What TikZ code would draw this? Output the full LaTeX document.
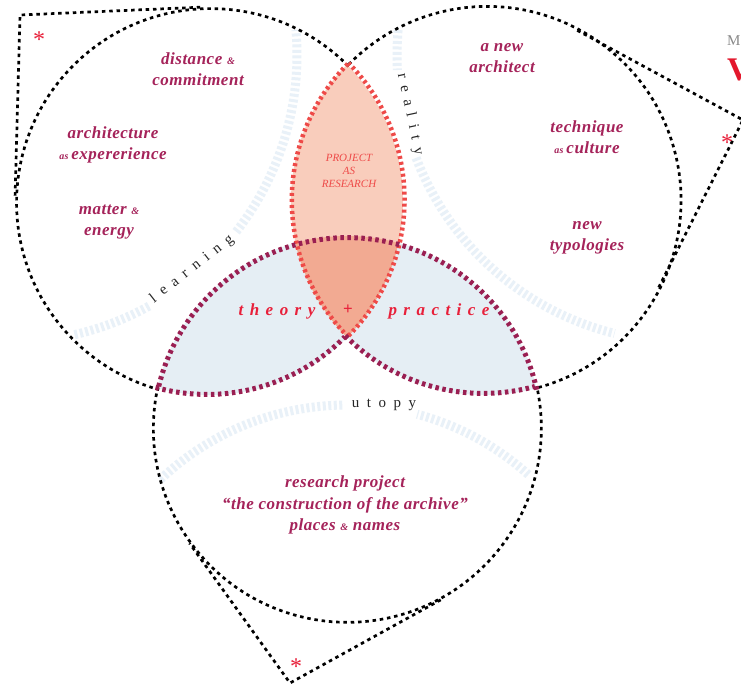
\documentclass[tikz,border=0pt]{standalone}
\usepackage{fontspec}
\setmainfont{Liberation Serif}
\usetikzlibrary{calc}
\definecolor{mag}{HTML}{A5235A}
\definecolor{purD}{HTML}{9A1F52}
\definecolor{redD}{HTML}{EE4A48}
\definecolor{redT}{HTML}{E8203A}
\definecolor{peach}{HTML}{F9CDBC}
\definecolor{salmon}{HTML}{F2AA92}
\definecolor{blueF}{HTML}{E5EEF4}
\definecolor{faintB}{HTML}{E9F1F8}
\definecolor{grayM}{HTML}{8A8A8A}
\definecolor{redV}{HTML}{E3182D}
\newcommand{\sm}[1]{{\fontsize{10}{10}\selectfont #1}}
\tikzset{
  circ/.style={circle, minimum size=388pt, inner sep=0pt, outer sep=0pt},
  blk/.style={draw=black, line width=2.7pt, dash pattern=on 3.5pt off 3.8pt},
  pur/.style={draw=purD, line width=5pt, dash pattern=on 3.5pt off 3.5pt},
  redd/.style={draw=redD, line width=4.5pt, dash pattern=on 3pt off 3pt},
  faint/.style={draw=faintB, line width=9pt, dash pattern=on 3pt off 2.5pt},
  lbl/.style={text=mag, align=center, inner sep=0pt,
    font=\fontsize{17}{21.5}\selectfont\bfseries\itshape\addfontfeature{LetterSpace=3}},
  tp/.style={text=redT, inner sep=0pt,
    font=\fontsize{17}{20}\selectfont\bfseries\itshape\addfontfeature{LetterSpace=38}},
  arcw/.style={text=black!85, inner sep=0pt,
    font=\fontsize{15}{15}\selectfont\addfontfeature{LetterSpace=50}},
  pr/.style={text=redD, align=center, inner sep=0pt,
    font=\fontsize{11}{13}\selectfont\itshape},
  ast/.style={text=redT, inner sep=0pt, anchor=base, font=\fontsize{24}{24}\selectfont},
}
\begin{document}
\begin{tikzpicture}[x=1pt,y=1pt]
\useasboundingbox (0,0) rectangle (741,-689);
\fill[white] (0,0) rectangle (741,-689);

% circles as nodes (geometry only)
\node[circ] (cA) at (209,-201) {};
\node[circ] (cB) at (485,-201) {};
\node[circ] (cC) at (347,-430) {};

% faint guide arcs
\draw[faint] (10,-55) ++(-77:287pt) arc[start angle=-77, end angle=-61, radius=287pt];
\draw[faint] (10,-55) ++(-38:287pt) arc[start angle=-38, end angle=5, radius=287pt];
\draw[faint] (684,-55) ++(175:287pt) arc[start angle=175, end angle=183, radius=287pt];
\draw[faint] (684,-55) ++(201:287pt) arc[start angle=201, end angle=256, radius=287pt];
\draw[faint] (347,-676) ++(48:271pt) arc[start angle=48, end angle=75, radius=271pt];
\draw[faint] (347,-676) ++(91:271pt) arc[start angle=91, end angle=134, radius=271pt];

% fills
\begin{scope}
  \clip (cA.center) circle[radius=194pt];
  \fill[blueF] (cC.center) circle[radius=194pt];
\end{scope}
\begin{scope}
  \clip (cB.center) circle[radius=194pt];
  \fill[blueF] (cC.center) circle[radius=194pt];
\end{scope}
\begin{scope}
  \clip (cA.center) circle[radius=194pt];
  \fill[peach] (cB.center) circle[radius=194pt];
\end{scope}
\begin{scope}
  \clip (cA.center) circle[radius=194pt];
  \clip (cB.center) circle[radius=194pt];
  \fill[salmon] (cC.center) circle[radius=194pt];
\end{scope}

% black dotted outer arcs
\draw[blk] (cA.44.66) arc[start angle=44.66, end angle=254.63, radius=194pt];
\draw[blk] (cB.-74.63) arc[start angle=-74.63, end angle=135.34, radius=194pt];
\draw[blk] (cC.167.51) arc[start angle=167.51, end angle=372.49, radius=194pt];

% tear-drop corners
\coordinate (kA) at (20,-15);
\coordinate (kB) at (743,-120);
\coordinate (kC) at (290,-683);
\draw[blk] (tangent cs:node=cA,point={(kA)},solution=1) -- (kA)
  -- (tangent cs:node=cA,point={(kA)},solution=2);
\draw[blk] (tangent cs:node=cB,point={(kB)},solution=1) -- (kB)
  -- (tangent cs:node=cB,point={(kB)},solution=2);
\draw[blk] (tangent cs:node=cC,point={(kC)},solution=1) -- (kC)
  -- (tangent cs:node=cC,point={(kC)},solution=2);

% red lens boundary
\draw[redd] (cA.-44.66) arc[start angle=-44.66, end angle=44.66, radius=194pt];
\draw[redd] (cB.135.34) arc[start angle=135.34, end angle=224.66, radius=194pt];

% purple boundaries
\draw[pur] (cC.12.49) arc[start angle=12.49, end angle=167.51, radius=194pt];
\draw[pur] (cA.254.63) arc[start angle=254.63, end angle=315.34, radius=194pt];
\draw[pur] (cB.224.66) arc[start angle=224.66, end angle=285.37, radius=194pt];

% labels
\node[lbl] (t1) at (198,-69) {distance \sm{\&}\\commitment};
\node[lbl] (t2) at (113,-145) {architecture\\\sm{as}\,expererience};
\node[lbl] (t3) at (109,-222) {matter \sm{\&}\\energy};
\node[lbl] (t4) at (502,-58) {a new\\architect};
\node[lbl] (t5) at (587,-137) {technique\\\sm{as}\,culture};
\node[lbl] (t6) at (587,-238) {new\\typologies};
\node[lbl] (t7) at (345,-505) {research project\\``the construction of the archive''\\places \sm{\&} names};

\node[tp] (th) at (277,-311) {theory};
\node[text=redT, font=\fontsize{17}{20}\selectfont\bfseries] (plus) at (348,-310) {+};
\node[tp] (pa) at (439,-311) {practice};

\node[pr] (par) at (349,-171) {PROJECT\\AS\\RESEARCH};

\node[arcw, rotate=38] (lrn) at (192,-269) {learning};
\node[arcw, rotate=-78] (rea) at (410,-114) {reality};
\node[arcw] (uto) at (384,-405) {utopy};

% asterisks
\node[ast] (s1) at (39,-47) {*};
\node[ast] (s2) at (727,-150) {*};
\node[ast] (s3) at (296,-674) {*};

% cropped header letters
\node[anchor=base west, inner sep=0pt, text=grayM, font=\fontsize{15}{15}\selectfont] (hM) at (727,-45) {M};
\node[anchor=base west, inner sep=0pt, text=redV, font=\fontsize{33}{33}\selectfont\bfseries] (hV) at (727,-80) {V};
\end{tikzpicture}
\end{document}
